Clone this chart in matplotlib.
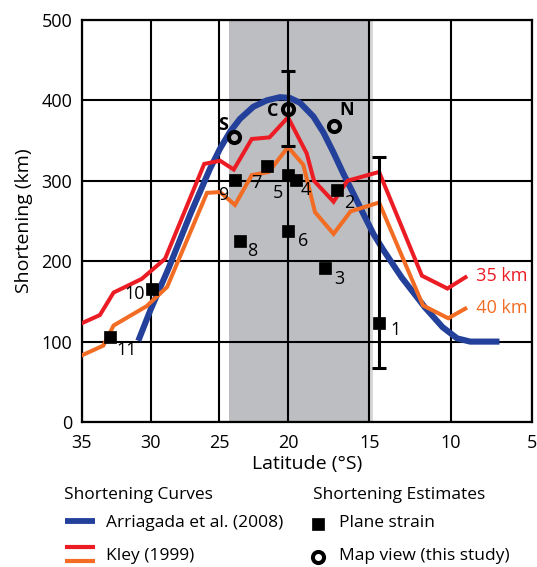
import numpy as np
import matplotlib
matplotlib.use("Agg")
import matplotlib.pyplot as plt
from matplotlib.lines import Line2D

plt.rcParams['font.family'] = ['Open Sans', 'DejaVu Sans']

# ---- data -------------------------------------------------------------
# Arriagada et al. (2008) shortening curve
arr_lat = [30.9, 30.0, 28.7, 27.1, 25.68, 24.95, 24.22, 23.5, 22.53, 21.55,
           20.58, 19.88, 19.26, 18.44, 17.82, 17.2, 16.6, 15.98, 15.37,
           14.75, 14.14, 13.02, 11.6, 10.5, 9.6, 8.8, 7.0]
arr_val = [101, 140, 191, 259, 315, 340, 361, 377, 392, 400,
           404, 403, 397, 380, 360, 335, 309, 284, 259,
           234, 214, 180, 143, 118, 104, 100, 100]

# Kley (1999), 35 km crust
k35_lat = [35.0, 33.7, 32.7, 30.65, 28.95, 26.1, 24.95, 23.95, 22.64, 21.35,
           20.0, 18.85, 18.4, 17.2, 16.35, 14.4, 11.77, 10.2, 9.09]
k35_val = [123, 133, 161, 178, 203, 321, 325, 314, 352, 354,
           379, 334, 300, 274, 300, 311, 182, 166, 180]

# Kley (1999), 40 km crust
k40_lat = [35.0, 33.45, 32.7, 30.3, 28.8, 25.9, 24.95, 23.86, 22.64, 21.4,
           20.0, 19.06, 18.34, 17.2, 16.15, 14.4, 11.7, 10.15, 9.1]
k40_val = [83, 95, 120, 144, 168, 285, 286, 270, 307, 311,
           342, 320, 261, 234, 262, 273, 145, 129, 141]

# plane-strain estimates
ps_id = ['1', '2', '3', '4', '5', '6', '7', '8', '9', '10', '11']
ps_lat = [14.4, 17.0, 17.7, 19.5, 20.0, 20.0, 21.5, 23.5, 23.85, 29.9, 32.96]
ps_val = [123, 288, 192, 301, 307, 237, 319, 225, 301, 165, 106]

# map-view estimates (this study)
mv_id = ['S', 'C', 'N']
mv_lat = [23.9, 20.0, 17.2]
mv_val = [354, 389, 368]

# uncertainty ranges (lower, upper)
err_1 = (67, 329)
err_c = (343, 436)

# shaded latitude band
band = (24.29, 15.0)

xticks = [35, 30, 25, 20, 15, 10, 5]
yticks = [0, 100, 200, 300, 400, 500]

# ---- styling ----------------------------------------------------------
BLUE = '#23409a'
RED = '#ec1c24'
ORANGE = '#f26c23'
GRAY = '#bdbec1'

# label offsets (pixels) relative to their markers
ps_off = {'1': (16, -7), '2': (12, -13), '3': (14, -11), '4': (10, -10),
          '5': (-10, -18), '6': (15, -10), '7': (-11, -17), '8': (12, -10),
          '9': (-12, -15), '10': (-17, -5), '11': (17, -13)}
mv_off = {'S': (-11, 12), 'C': (-15, -2), 'N': (13, 16)}

W, H = 537, 567
fig = plt.figure(figsize=(W / 100, H / 100), dpi=100)
ax = fig.add_axes([82 / W, 1 - 422 / H, 450 / W, 402 / H])


# latitude axis is stretched north of 20 S
def fwd(x):
    x = np.asarray(x, dtype=float)
    return np.where(x <= 20, (x - 5) * 244 / 15, 244 + (x - 20) * 206 / 15)


def inv(u):
    u = np.asarray(u, dtype=float)
    return np.where(u <= 244, 5 + u * 15 / 244, 20 + (u - 244) * 15 / 206)


ax.set_xscale('function', functions=(fwd, inv))
ax.set_xlim(35, 5)
ax.set_ylim(0, 500)

ax.axvspan(band[0], band[1], color=GRAY, zorder=0, lw=0)
ax.axvspan(band[1], band[1] - 0.22, color='#d6d7d9', zorder=0, lw=0)

ax.set_xticks(xticks)
ax.set_yticks(yticks)
ax.set_xticklabels([str(t) for t in xticks])
ax.grid(True, color='black', lw=1.5, zorder=1)
ax.set_axisbelow(True)
for s in ax.spines.values():
    s.set_linewidth(1.6)
ax.tick_params(length=0, labelsize=13, pad=7)
ax.tick_params(axis='x', pad=9)

ax.plot(arr_lat, arr_val, color=BLUE, lw=4.4, zorder=3,
        solid_capstyle='butt', solid_joinstyle='round')
ax.plot(k35_lat, k35_val, color=RED, lw=2.9, zorder=4, solid_joinstyle='miter')
ax.plot(k40_lat, k40_val, color=ORANGE, lw=2.9, zorder=4, solid_joinstyle='miter')

ax.text(9.0, 181, '  35 km', color=RED, fontsize=13, va='center', ha='left')
ax.text(9.0, 142, '  40 km', color=ORANGE, fontsize=13, va='center', ha='left')

# uncertainty bars
i1 = ps_id.index('1')
ax.errorbar([ps_lat[i1]], [ps_val[i1]],
            yerr=[[ps_val[i1] - err_1[0]], [err_1[1] - ps_val[i1]]],
            fmt='none', ecolor='black', elinewidth=2.2, capsize=5,
            capthick=2.2, zorder=5)
ci = mv_id.index('C')
ax.errorbar([mv_lat[ci]], [mv_val[ci]],
            yerr=[[mv_val[ci] - err_c[0]], [err_c[1] - mv_val[ci]]],
            fmt='none', ecolor='black', elinewidth=2.2, capsize=5,
            capthick=2.2, zorder=5)

ax.plot(ps_lat, ps_val, 's', color='black', ms=8.3, mew=0.5, zorder=6)
ax.plot(mv_lat, mv_val, 'o', mfc='none', mec='black', ms=8, mew=2.9, zorder=6)

for lab, x, y in zip(ps_id, ps_lat, ps_val):
    ax.annotate(lab, (x, y), xytext=ps_off[lab], textcoords='offset pixels',
                ha='center', va='center', fontsize=13, zorder=7)
for lab, x, y in zip(mv_id, mv_lat, mv_val):
    ax.annotate(lab, (x, y), xytext=mv_off[lab], textcoords='offset pixels',
                ha='center', va='center', fontsize=13, fontweight='bold', zorder=7)

ax.set_xlabel('Latitude (°S)', fontsize=14, labelpad=2)
ax.set_ylabel('Shortening (km)', fontsize=14, labelpad=6)

# ---- legend block under the chart ----------------------------------------
lg = fig.add_axes([0, 0, 1, 1], zorder=-1)
lg.set_xlim(0, W)
lg.set_ylim(H, 0)
lg.axis('off')
fs = 12.5
lg.text(64, 495, 'Shortening Curves', fontsize=fs, va='center', ha='left')
lg.text(313, 495, 'Shortening Estimates', fontsize=fs, va='center', ha='left')
lg.add_line(Line2D([65, 95], [521, 521], color=BLUE, lw=4.2, solid_capstyle='butt'))
lg.text(106, 523, 'Arriagada et al. (2008)', fontsize=fs, va='center', ha='left')
lg.add_line(Line2D([65, 95], [546.5, 546.5], color=RED, lw=3, solid_capstyle='butt'))
lg.add_line(Line2D([65, 95], [561, 561], color=ORANGE, lw=3, solid_capstyle='butt'))
lg.text(106, 556, 'Kley (1999)', fontsize=fs, va='center', ha='left')
lg.plot([318], [524], 's', color='black', ms=8.3, mew=0.5)
lg.text(339, 523, 'Plane strain', fontsize=fs, va='center', ha='left')
lg.plot([318], [557], 'o', mfc='none', mec='black', ms=8, mew=2.9)
lg.text(339, 556, 'Map view (this study)', fontsize=fs, va='center', ha='left')

fig.savefig('out.png', dpi=100)
